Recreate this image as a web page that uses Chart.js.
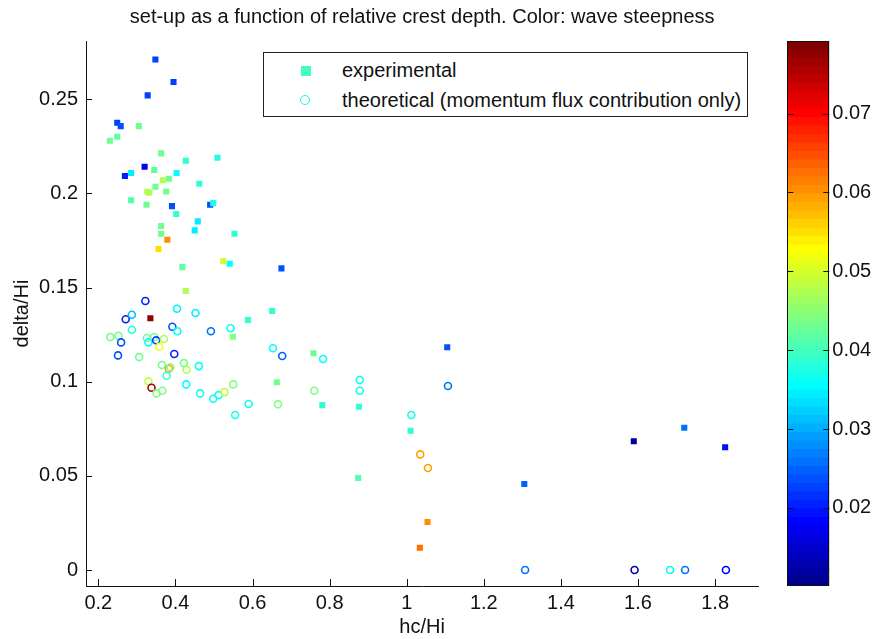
<!DOCTYPE html>
<html>
<head>
<meta charset="utf-8">
<script src="https://cdn.jsdelivr.net/npm/chart.js@4.4.1/dist/chart.umd.min.js"></script>
<style>
html,body{margin:0;padding:0;background:#fff;}
#wrap{position:relative;width:872px;height:639px;overflow:hidden;background:#fff;}
#main{position:absolute;left:0;top:0;}
#cbar{position:absolute;left:760px;top:0;}
#legend{position:absolute;left:263px;top:52px;width:483px;height:63px;border:1px solid #222;background:#fff;
  font-family:"Liberation Sans",Arial,sans-serif;font-size:20px;color:#111;}
#legend .t{position:absolute;left:78px;line-height:24px;white-space:nowrap;}
#legend .sq{position:absolute;left:37px;top:13px;width:10px;height:10px;background:#40ffc0;}
#legend .ci{position:absolute;left:36px;top:42px;width:8px;height:8px;border:1.6px solid #20f0e8;border-radius:50%;}
</style>
</head>
<body>
<div id="wrap">
  <canvas id="main" width="872" height="639"></canvas>
  <canvas id="cbar" width="112" height="639"></canvas>
  <div id="legend">
    <div class="sq"></div><div class="t" style="top:5px">experimental</div>
    <div class="ci"></div><div class="t" style="top:35px">theoretical (momentum flux contribution only)</div>
  </div>
</div>
<script>
// ---------------- data ----------------
// experimental: relative crest depth hc/Hi, set-up delta/Hi, wave steepness
const expX = [0.348,0.395,0.328,0.249,0.258,0.305,0.249,0.230,0.363,0.427,0.509,0.320,0.269,0.285,0.345,0.367,0.383,0.403,0.348,0.327,0.332,0.376,0.462,0.285,0.325,0.391,0.490,0.498,0.402,0.363,0.363,0.379,0.356,0.458,0.450,0.553,0.524,0.541,0.418,0.427,0.335,0.588,0.549,0.675,0.651,0.758,0.663,0.781,0.876,0.874,1.105,1.010,1.054,1.034,1.305,1.589,1.720,1.826];
const expY = [0.2712,0.2592,0.2521,0.2376,0.2358,0.2358,0.2301,0.2280,0.2213,0.2174,0.2190,0.2142,0.2093,0.2109,0.2125,0.2070,0.2078,0.2109,0.2036,0.2009,0.2004,0.2011,0.2052,0.1964,0.1940,0.1933,0.1940,0.1949,0.1891,0.1827,0.1786,0.1754,0.1705,0.1852,0.1804,0.1786,0.1641,0.1627,0.1609,0.1482,0.1337,0.1328,0.1239,0.1602,0.1376,0.1151,0.0997,0.0876,0.0867,0.0489,0.1183,0.0740,0.0255,0.0118,0.0457,0.0684,0.0756,0.0652];
const expS = [0.022,0.022,0.022,0.022,0.024,0.043,0.042,0.043,0.043,0.039,0.038,0.017,0.020,0.034,0.042,0.047,0.043,0.035,0.043,0.047,0.047,0.043,0.039,0.041,0.043,0.024,0.024,0.038,0.039,0.043,0.043,0.060,0.055,0.034,0.034,0.039,0.050,0.036,0.042,0.047,0.078,0.039,0.044,0.024,0.039,0.043,0.043,0.039,0.039,0.041,0.024,0.039,0.060,0.062,0.025,0.012,0.026,0.019];
// theoretical (momentum flux contribution only)
const thX = [0.322,0.404,0.452,0.271,0.287,0.287,0.392,0.405,0.492,0.543,0.231,0.252,0.259,0.326,0.330,0.345,0.350,0.370,0.358,0.251,0.306,0.397,0.365,0.383,0.377,0.387,0.422,0.429,0.461,0.330,0.338,0.351,0.366,0.428,0.464,0.498,0.512,0.527,0.550,0.590,0.653,0.677,0.783,0.555,0.666,0.760,0.878,0.878,1.107,1.012,1.035,1.055,1.307,1.591,1.683,1.722,1.828];
const thY = [0.1429,0.1388,0.1365,0.1332,0.1356,0.1276,0.1292,0.1268,0.1268,0.1284,0.1238,0.1244,0.1209,0.1232,0.1209,0.1238,0.1220,0.1227,0.1186,0.1140,0.1131,0.1147,0.1089,0.1069,0.1032,0.1077,0.1099,0.1064,0.1083,0.1002,0.0968,0.0938,0.0952,0.0986,0.0938,0.0910,0.0929,0.0945,0.0986,0.0882,0.1178,0.1137,0.1121,0.0823,0.0880,0.0952,0.1009,0.0952,0.0977,0.0823,0.0614,0.0542,0.0,0.0,0.0,0.0,0.0];
const thS = [0.020,0.034,0.034,0.020,0.031,0.038,0.024,0.035,0.026,0.035,0.043,0.043,0.024,0.043,0.035,0.043,0.022,0.047,0.052,0.024,0.043,0.020,0.043,0.059,0.039,0.044,0.043,0.047,0.035,0.048,0.077,0.044,0.044,0.036,0.037,0.037,0.037,0.048,0.044,0.037,0.036,0.025,0.036,0.037,0.044,0.044,0.037,0.037,0.026,0.037,0.059,0.059,0.026,0.013,0.036,0.026,0.018];
// axis / colour limits and tick labels
const xLimits = [0.168, 1.912];
const yLimits = [-0.0085, 0.281];
const cLimits = [0.0101, 0.0792];
const xTickLabels = ['0.2','0.4','0.6','0.8','1','1.2','1.4','1.6','1.8'];
const yTickLabels = ['0','0.05','0.1','0.15','0.2','0.25'];
const cTickLabels = ['0.02','0.03','0.04','0.05','0.06','0.07'];

// ---------------- MATLAB jet(64) ----------------
function jetMap(m){
  const n = Math.ceil(m/4);
  const u = [];
  for(let i=1;i<=n;i++) u.push(i/n);
  for(let i=1;i<n;i++) u.push(1);
  for(let i=n;i>=1;i--) u.push(i/n);
  const J = Array.from({length:m},()=>[0,0,0]);
  const off = Math.ceil(n/2) - (m%4===1?1:0);
  const g = u.map((_,i)=>off+i+1);
  const r = g.map(v=>v+n).filter(v=>v<=m);
  const b = g.map(v=>v-n).filter(v=>v>=1);
  const gg = g.filter(v=>v<=m);
  r.forEach((idx,i)=>J[idx-1][0]=u[i]);
  gg.forEach((idx,i)=>J[idx-1][1]=u[i]);
  b.forEach((idx,i)=>J[idx-1][2]=u[u.length-b.length+i]);
  return J.map(c=>'rgb('+c.map(v=>Math.round(v*255)).join(',')+')');
}
const JET = jetMap(64);
function colorOf(v){
  let k = Math.floor((v-cLimits[0])/(cLimits[1]-cLimits[0])*64);
  k = Math.max(0, Math.min(63, k));
  return JET[k];
}

const FONT = {family:'"Liberation Sans", Arial, sans-serif', size:20, weight:'normal'};
const TFONT = {family:'"Liberation Sans", Arial, sans-serif', size:20, weight:'normal'};
const TXT = '#111';

const inwardTicks = {
  id:'inwardTicks',
  afterDraw(chart){
    const {ctx, chartArea:a, scales} = chart;
    ctx.save();
    ctx.strokeStyle = '#111'; ctx.lineWidth = 1;
    scales.x.ticks.forEach(t=>{
      const p = Math.round(scales.x.getPixelForValue(t.value))+0.5;
      ctx.beginPath(); ctx.moveTo(p, a.bottom); ctx.lineTo(p, a.bottom-7); ctx.stroke();
    });
    scales.y.ticks.forEach(t=>{
      const p = Math.round(scales.y.getPixelForValue(t.value))+0.5;
      ctx.beginPath(); ctx.moveTo(a.left, p); ctx.lineTo(a.left+6, p); ctx.stroke();
    });
    ctx.restore();
  }
};

new Chart(document.getElementById('main'), {
  type:'scatter',
  data:{
    datasets:[
      {
        label:'experimental',
        data: expX.map((x,i)=>({x:x, y:expY[i]})),
        pointStyle:'rect',
        pointRadius:4.3,
        borderWidth:0,
        backgroundColor: c => colorOf(expS[c.dataIndex]),
        borderColor: c => colorOf(expS[c.dataIndex])
      },
      {
        label:'theoretical (momentum flux contribution only)',
        data: thX.map((x,i)=>({x:x, y:thY[i]})),
        pointStyle:'circle',
        pointRadius:3.5,
        borderWidth:1.6,
        backgroundColor:'rgba(0,0,0,0)',
        borderColor: c => colorOf(thS[c.dataIndex])
      }
    ]
  },
  options:{
    responsive:false,
    animation:false,
    layout:{padding:{left:0,right:113.7,top:0,bottom:0}},
    plugins:{
      legend:{display:false},
      tooltip:{enabled:false},
      title:{display:true, fullSize:false, text:'set-up as a function of relative crest depth. Color: wave steepness',
        font:TFONT, color:TXT, padding:{top:5,bottom:12}}
    },
    scales:{
      x:{
        type:'linear', min:xLimits[0], max:xLimits[1],
        afterFit: s => { s.height = 53; },
        grid:{display:false, drawTicks:false},
        border:{display:true, color:'#111', width:1},
        ticks:{stepSize:0.2, includeBounds:false, padding:5, font:FONT, color:TXT, maxRotation:0,
          callback:(v)=>{ const s = String(+v.toFixed(1)); return xTickLabels.includes(s)? s : ''; }},
        title:{display:true, text:'hc/Hi', font:FONT, color:TXT, padding:{top:0,bottom:0}}
      },
      y:{
        type:'linear', min:yLimits[0], max:yLimits[1],
        afterFit: s => { s.width = 86; },
        grid:{display:false, drawTicks:false},
        border:{display:true, color:'#111', width:1},
        ticks:{stepSize:0.05, includeBounds:false, padding:8, font:FONT, color:TXT,
          callback:(v)=>{ const s = String(+v.toFixed(2)); return yTickLabels.includes(s)? s : ''; }},
        title:{display:true, text:'delta/Hi', font:FONT, color:TXT, padding:{top:10,bottom:0}}
      }
    }
  },
  plugins:[inwardTicks]
});

// ---------------- colour bar ----------------
const bandH = (cLimits[1]-cLimits[0])/64;
const cbDatasets = JET.map((col,k)=>({
  data:[[cLimits[0]+k*bandH, cLimits[0]+(k+1)*bandH + (k<63? bandH*0.05:0)]],
  backgroundColor:col, borderWidth:0, barPercentage:1, categoryPercentage:1, grouped:false
}));
const cbFrame = {
  id:'cbFrame',
  afterDraw(chart){
    const {ctx, chartArea:a, scales} = chart;
    ctx.save();
    ctx.strokeStyle = '#111'; ctx.lineWidth = 1;
    ctx.strokeRect(Math.round(a.left)+0.5, Math.round(a.top)+0.5, Math.round(a.right-a.left)-1, Math.round(a.bottom-a.top)-1);
    scales.y.ticks.forEach(t=>{
      const p = Math.round(scales.y.getPixelForValue(t.value))+0.5;
      ctx.beginPath(); ctx.moveTo(a.left, p); ctx.lineTo(a.left+6, p); ctx.stroke();
      ctx.beginPath(); ctx.moveTo(a.right, p); ctx.lineTo(a.right-6, p); ctx.stroke();
    });
    ctx.restore();
  }
};
new Chart(document.getElementById('cbar'), {
  type:'bar',
  data:{labels:[''], datasets:cbDatasets},
  options:{
    responsive:false,
    animation:false,
    layout:{padding:{left:27.3,right:0,top:41,bottom:53}},
    plugins:{legend:{display:false}, tooltip:{enabled:false}},
    scales:{
      x:{display:false},
      y:{
        position:'right', min:cLimits[0], max:cLimits[1],
        afterFit: s => { s.width = 112-27.3-42; },
        grid:{display:false, drawTicks:false},
        border:{display:false},
        ticks:{stepSize:0.01, includeBounds:false, padding:3, font:FONT, color:TXT,
          callback:(v)=>{ const s = v.toFixed(2); return cTickLabels.includes(s)? s : ''; }}
      }
    }
  },
  plugins:[cbFrame]
});
</script>
</body>
</html>
